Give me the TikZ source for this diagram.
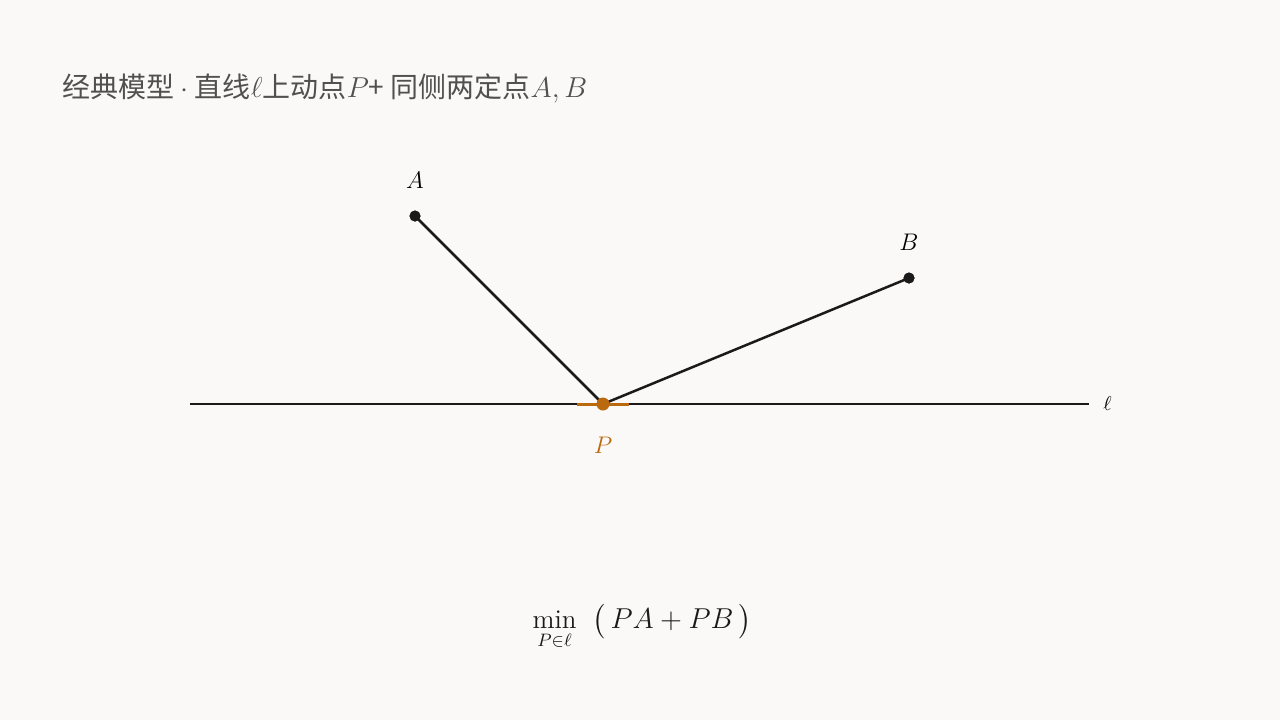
\documentclass[tikz,border=0pt]{standalone}
\usepackage{fontspec}
\usepackage{amsmath}
\newfontfamily\cjk{Noto Sans CJK SC}
\usetikzlibrary{positioning,calc}

\definecolor{bgcol}{HTML}{FAF9F7}
\definecolor{inkcol}{HTML}{1A1A1A}
\definecolor{titlecol}{HTML}{505050}
\definecolor{movecol}{HTML}{BA690E}

\begin{document}
\begin{tikzpicture}[x=0.5pt,y=-0.5pt]

\tikzstyle{fixdot}=[circle,fill=inkcol,inner sep=0pt,minimum size=5.5pt]
\tikzstyle{movedot}=[circle,fill=movecol,inner sep=0pt,minimum size=6.5pt]
\tikzstyle{ptlabel}=[inner sep=0pt,font=\fontsize{12}{14}\selectfont]
\tikzstyle{seg}=[draw=inkcol,line width=1.25pt]

\fill[bgcol] (0,0) rectangle (1280,720);
\useasboundingbox (0,0) rectangle (1280,720);

% TITLE
\node[anchor=west,inner sep=0pt,text=titlecol,font=\cjk\fontsize{14}{16}\selectfont](title) at (62,88){经典模型 $\cdot$ 直线$\ell$上动点$P$+ 同侧两定点$A,B$};

% NODES
% line l
\coordinate(lstart) at (190,404);
\coordinate(lend) at (1089,404);
\node[ptlabel, right=7pt of lend, font=\fontsize{10}{12}\selectfont](ell){$\ell$};

% fixed points
\node[fixdot](A) at (415,216){};
\node[fixdot](B) at (909,278){};
\node[ptlabel, above=10.5pt of A](Alab){$A$};
\node[ptlabel, above=10.5pt of B](Blab){$B$};

% moving point
\coordinate(P) at (603,404);
\node[ptlabel, text=movecol, below=16.5pt of P](Plab){$P$};

% LINES
\draw[seg](lstart) -- (lend);
\draw[draw=movecol,line width=1.5pt]([xshift=-13pt]P) -- ([xshift=13pt]P);
\draw[seg](A.center) -- (P);
\draw[seg](P) -- (B.center);
\node[fixdot] at (A){};
\node[fixdot] at (B){};
\node[movedot](Pdot) at (P){};

% FORMULA
\node[inner sep=0pt,text=inkcol,font=\fontsize{13.5}{16}\selectfont](goal) at (642,627){$\displaystyle\min_{P\in\ell}\;\;\bigl(\,PA+PB\,\bigr)$};

\end{tikzpicture}
\end{document}
